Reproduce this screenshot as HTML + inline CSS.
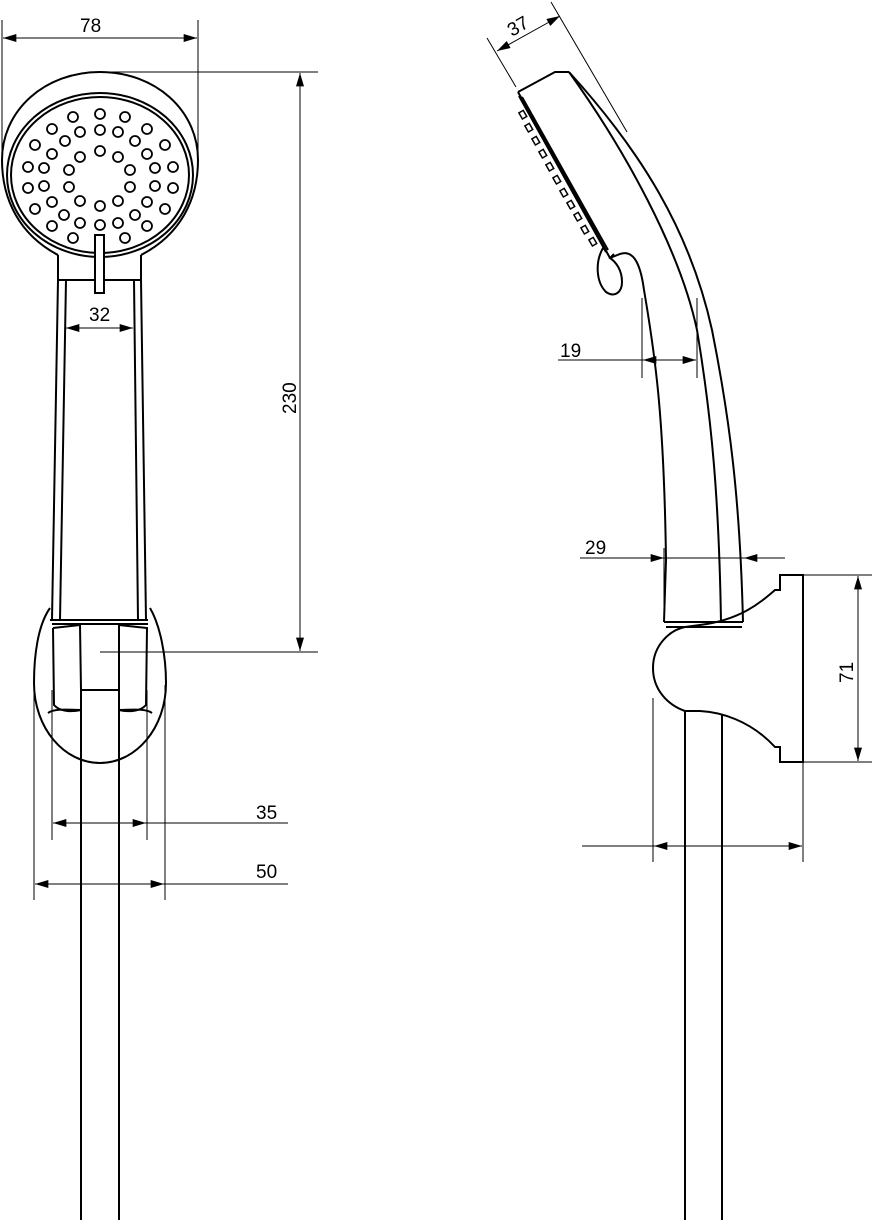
<!DOCTYPE html>
<html><head><meta charset="utf-8"><style>html,body{margin:0;padding:0;background:#fff}svg{display:block}text{font-family:"Liberation Sans",sans-serif;font-size:19px;fill:#000}</style></head>
<body>
<svg width="872" height="1220" viewBox="0 0 872 1220" xmlns="http://www.w3.org/2000/svg">
<defs>
<marker id="a" viewBox="0 0 10 6" refX="10" refY="3" markerWidth="15" markerHeight="8" markerUnits="userSpaceOnUse" orient="auto-start-reverse"><path d="M0,0L10,3L0,6z" fill="#000"/></marker>
</defs>
<g fill="none" stroke="#000" stroke-width="1">
<line x1="2" y1="20" x2="2" y2="160"/><line x1="198" y1="20" x2="198" y2="160"/>
<line x1="3" y1="38" x2="197" y2="38" marker-start="url(#a)" marker-end="url(#a)"/>
<line x1="100" y1="72" x2="318" y2="72"/><line x1="100" y1="652" x2="318" y2="652"/>
<line x1="300" y1="73" x2="300" y2="651" marker-start="url(#a)" marker-end="url(#a)"/>
<line x1="66" y1="328" x2="133" y2="328" marker-start="url(#a)" marker-end="url(#a)"/>
<line x1="52" y1="690" x2="52" y2="840"/><line x1="147" y1="690" x2="147" y2="840"/>
<line x1="53" y1="823" x2="146" y2="823" marker-start="url(#a)" marker-end="url(#a)"/><line x1="146" y1="823" x2="288" y2="823"/>
<line x1="34" y1="685" x2="34" y2="900"/><line x1="165" y1="685" x2="165" y2="900"/>
<line x1="35" y1="884" x2="164" y2="884" marker-start="url(#a)" marker-end="url(#a)"/><line x1="164" y1="884" x2="288" y2="884"/>
</g>
<g fill="none" stroke="#000" stroke-width="2">
<path d="M58,255 C20,235 2,200 2,160 C2,110 45,72 100,72 C155,72 198,110 198,160 C198,200 180,235 141,255"/>
<ellipse cx="100" cy="175" rx="93" ry="82"/>
<ellipse cx="100" cy="175" rx="89" ry="78"/>
<path d="M58,255 C58,265 58,272 58,280 M141,255 C141,265 141,272 141,280"/>
<path d="M58,280 L141,280"/>
<rect x="95" y="235" width="9" height="58" fill="#fff"/>
<path d="M58,280 L52,620 M66,280 L60,620 M134,280 L138,620 M141,280 L146,620 M50,620 L148,620 M52,624 L148,624"/>
<path d="M50,608 C38,625 34,655 34,683 C34,728 64,763 100,763 C136,763 166,728 166,683 C166,655 160,625 150,608"/>
<path d="M53,628 L80,625 L81,690 L119,690 L119,625 L147,628 L146,705 C140,712 128,712 119,710 M53,628 L54,705 C60,712 72,712 81,710 M48,713 C55,708 70,710 81,710 M152,713 C145,708 130,710 119,710"/>
<path d="M81,690 L81,1220 M119,690 L119,1220"/>
</g>
<g fill="none" stroke="#000" stroke-width="1.8">
<circle cx="73" cy="117" r="5"/><circle cx="100" cy="114" r="5"/><circle cx="125" cy="117" r="5"/>
<circle cx="52" cy="129" r="5"/><circle cx="80" cy="132" r="5"/><circle cx="100" cy="130" r="5"/><circle cx="118" cy="132" r="5"/><circle cx="147" cy="129" r="5"/>
<circle cx="65" cy="141" r="5"/><circle cx="135" cy="141" r="5"/><circle cx="35" cy="145" r="5"/><circle cx="165" cy="145" r="5"/>
<circle cx="52" cy="154" r="5"/><circle cx="80" cy="157" r="5"/><circle cx="100" cy="151" r="5"/><circle cx="118" cy="157" r="5"/><circle cx="147" cy="154" r="5"/>
<circle cx="28" cy="167" r="5"/><circle cx="44" cy="168" r="5"/><circle cx="69" cy="170" r="5"/><circle cx="130" cy="170" r="5"/><circle cx="155" cy="168" r="5"/><circle cx="173" cy="167" r="5"/>
<circle cx="28" cy="188" r="5"/><circle cx="44" cy="186" r="5"/><circle cx="69" cy="187" r="5"/><circle cx="130" cy="187" r="5"/><circle cx="155" cy="186" r="5"/><circle cx="173" cy="188" r="5"/>
<circle cx="35" cy="209" r="5"/><circle cx="165" cy="209" r="5"/>
<circle cx="52" cy="202" r="5"/><circle cx="80" cy="201" r="5"/><circle cx="100" cy="206" r="5"/><circle cx="118" cy="201" r="5"/><circle cx="147" cy="202" r="5"/>
<circle cx="64" cy="215" r="5"/><circle cx="135" cy="215" r="5"/>
<circle cx="52" cy="226" r="5"/><circle cx="80" cy="223" r="5"/><circle cx="100" cy="225" r="5"/><circle cx="118" cy="223" r="5"/><circle cx="147" cy="226" r="5"/>
<circle cx="73" cy="238" r="5"/><circle cx="125" cy="238" r="5"/>
</g>
<text x="80" y="32">78</text>
<text x="89" y="321">32</text>
<text x="256" y="819">35</text>
<text x="256" y="878">50</text>
<text transform="translate(296,414) rotate(-90)">230</text>

<g fill="none" stroke="#000" stroke-width="1">
<line x1="487" y1="38" x2="516" y2="87"/><line x1="551" y1="2" x2="627" y2="132"/>
<line x1="497" y1="51" x2="560" y2="16" marker-start="url(#a)" marker-end="url(#a)"/>
<line x1="642" y1="298" x2="642" y2="378"/><line x1="697" y1="298" x2="697" y2="378"/>
<line x1="558" y1="360" x2="643" y2="360"/>
<line x1="643" y1="360" x2="696" y2="360" marker-start="url(#a)" marker-end="url(#a)"/>
<line x1="664" y1="548" x2="664" y2="620"/>
<line x1="580" y1="558" x2="664" y2="558" marker-end="url(#a)"/>
<line x1="785" y1="558" x2="744" y2="558" marker-end="url(#a)"/>
<line x1="744" y1="558" x2="664" y2="558"/>
<line x1="803" y1="575" x2="872" y2="575"/><line x1="803" y1="762" x2="872" y2="762"/>
<line x1="858" y1="576" x2="858" y2="761" marker-start="url(#a)" marker-end="url(#a)"/>
<line x1="653" y1="698" x2="653" y2="862"/><line x1="803" y1="762" x2="803" y2="862"/>
<line x1="582" y1="846" x2="654" y2="846"/>
<line x1="654" y1="846" x2="802" y2="846" marker-start="url(#a)" marker-end="url(#a)"/>
</g>
<g fill="none" stroke="#000" stroke-width="2">
<path d="M518,92 L555,72 L569,72"/>
<path d="M569,72 C640,150 690,230 712,330 C730,420 740,500 743,622"/>
<path d="M569,72 C625,150 680,250 697,330 C712,420 719,500 721,622"/>
<path d="M518,92 L610,258 M522,97 L608,250 M519,96 L606,252"/>
<path d="M610,258 L620,254 C632,250 640,260 644,290 C656,360 664,420 666,560 L664,622"/>
<path d="M603,248 C595,262 596,282 606,292 C615,298 622,292 622,282 C622,270 616,262 610,258 L614,254"/>
<path d="M664,622 L743,622 M666,627 L742,627"/>
<path d="M780,575 L803,575 L803,762 L780,762 L780,747 L775,747 C750,720 720,712 700,711 L685,711 C668,705 653,690 653,668 C653,645 670,630 685,627 L700,625 C740,620 760,603 775,590 L780,590 Z"/>
<path d="M685,711 L685,1220 M722,714 L722,1220"/>
</g>
<g fill="#fff" stroke="#000" stroke-width="1.5">
<rect x="520" y="112" width="7" height="5" transform="rotate(60 523 114)"/>
<rect x="526" y="125" width="7" height="5" transform="rotate(60 529 127)"/>
<rect x="533" y="138" width="7" height="5" transform="rotate(60 536 140)"/>
<rect x="540" y="151" width="7" height="5" transform="rotate(60 543 153)"/>
<rect x="547" y="164" width="7" height="5" transform="rotate(60 550 166)"/>
<rect x="554" y="177" width="7" height="5" transform="rotate(60 557 179)"/>
<rect x="561" y="190" width="7" height="5" transform="rotate(60 564 192)"/>
<rect x="568" y="202" width="7" height="5" transform="rotate(60 571 204)"/>
<rect x="575" y="214" width="7" height="5" transform="rotate(60 578 216)"/>
<rect x="582" y="227" width="7" height="5" transform="rotate(60 585 229)"/>
<rect x="590" y="239" width="7" height="5" transform="rotate(60 593 241)"/>
</g>
<text transform="translate(512,37) rotate(-30)">37</text>
<text x="560" y="357">19</text>
<text x="585" y="554">29</text>
<text transform="translate(853,683) rotate(-90)">71</text>
</svg>
</body></html>
